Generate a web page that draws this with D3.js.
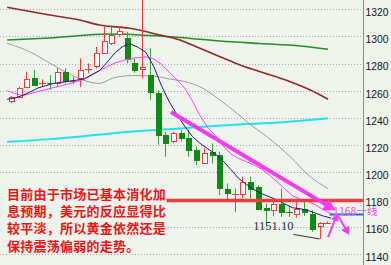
<!DOCTYPE html>
<html>
<head>
<meta charset="utf-8">
<script src="https://cdn.jsdelivr.net/npm/d3@7/dist/d3.min.js"></script>
<style>
  body { margin: 0; background: #ffffff; }
  svg { display: block; }
</style>
</head>
<body>
<div id="chart"></div>
<script>
const width = 391;
const height = 265;
const axis_x = 363;

// candles, one per bar (index 0..41)
const opens  = [1252.5, 1255.7, 1263.0, 1269.2, 1265.9, 1266.0, 1265.5, 1273.6, 1267.0, 1269.2,
                1276.0, 1278.3, 1288.3, 1295.4, 1301.8, 1298.7, 1280.7, 1275.8, 1271.6, 1258.6,
                1227.5, 1222.5, 1228.7, 1225.0, 1216.4, 1207.4, 1215.2, 1212.7, 1187.5, 1183.8,
                1184.6, 1193.1, 1189.0, 1174.0, 1172.3, 1176.7, 1171.2, 1169.4, 1173.1, 1169.4,
                1160.0, 1163.0];
const highs  = [1256.2, 1263.0, 1274.1, 1275.3, 1268.5, 1271.6, 1276.6, 1276.6, 1270.4, 1283.9,
                1280.2, 1292.5, 1308.4, 1308.4, 1307.7, 1303.5, 1283.9, 1330.0, 1291.3, 1260.6,
                1229.9, 1229.9, 1231.2, 1231.2, 1218.9, 1217.7, 1221.4, 1215.2, 1191.9, 1188.2,
                1196.8, 1196.8, 1190.7, 1177.2, 1179.6, 1188.2, 1175.2, 1178.2, 1178.2, 1172.3,
                1163.3, 1164.0];
const lows   = [1250.8, 1254.5, 1262.5, 1263.8, 1263.5, 1260.6, 1263.0, 1265.5, 1265.0, 1263.0,
                1272.9, 1276.6, 1287.6, 1293.7, 1299.8, 1280.2, 1273.3, 1269.2, 1253.2, 1220.3,
                1211.5, 1221.4, 1222.5, 1211.5, 1205.4, 1206.6, 1206.6, 1183.3, 1180.1, 1171.0,
                1180.9, 1180.9, 1172.3, 1160.0, 1167.8, 1167.3, 1167.3, 1166.7, 1168.0, 1156.3,
                1151.1, 1162.0];
const closes = [1255.2, 1262.3, 1268.7, 1264.3, 1266.0, 1265.0, 1273.6, 1266.7, 1267.2, 1275.3,
                1276.1, 1288.1, 1296.9, 1301.1, 1304.0, 1283.2, 1275.8, 1277.3, 1259.3, 1227.5,
                1221.4, 1228.7, 1225.0, 1216.4, 1209.1, 1214.4, 1213.3, 1188.2, 1184.6, 1184.0,
                1193.1, 1188.2, 1172.8, 1172.8, 1176.7, 1171.0, 1171.0, 1173.1, 1171.1, 1158.4,
                1162.5, 1163.0];

// fast averages, first value sits half a bar left of bar 0
const ma_start = -0.5;
const ma_navy = [1253.8, 1254.7, 1256.6, 1259.3, 1262.1, 1263.8, 1265.5, 1266.3, 1267.1, 1267.9,
                 1268.8, 1272.0, 1275.0, 1281.3, 1288.1, 1292.7, 1294.5, 1292.0, 1288.2, 1278.0,
                 1263.9, 1252.1, 1242.6, 1234.1, 1226.5, 1221.4, 1217.4, 1213.6, 1208.4, 1202.1,
                 1195.6, 1191.3, 1187.3, 1184.4, 1182.1, 1179.8, 1176.8, 1174.0, 1173.3, 1172.0,
                 1170.0, 1167.9, 1166.4];
const ma_pink = [1260.2, 1258.0, 1256.5, 1258.0, 1259.5, 1260.9, 1262.4, 1263.7, 1265.2, 1266.9,
                 1268.6, 1271.7, 1275.0, 1277.9, 1280.5, 1282.2, 1283.9, 1284.5, 1285.0, 1283.5,
                 1279.5, 1273.9, 1268.2, 1262.1, 1252.8, 1241.7, 1233.2, 1227.2, 1219.5, 1213.7,
                 1210.2, 1207.9, 1205.4, 1202.4, 1198.0, 1193.0, 1187.9, 1182.9, 1180.4, 1178.6,
                 1176.1, 1172.5, 1169.7];

// slow averages as [bar index, price] knots
const ma_gray = [[-0.5, 1295.0], [2.5, 1288.6], [5, 1280.5], [7.3, 1273.1], [9.3, 1268.0],
                 [11.5, 1265.5], [13.2, 1269.4], [15.8, 1271.3], [18.4, 1270.9], [20.6, 1268.7],
                 [22.5, 1266.9], [24.5, 1263.0], [27.1, 1253.2], [29.3, 1243.4], [31.4, 1233.6],
                 [33.2, 1226.2], [36.2, 1211.5], [38.8, 1196.8], [41.1, 1188.2]];
const ma_maroon = [[-0.5, 1321.5], [5, 1315.8], [8.9, 1312.1], [11.5, 1308.4], [15.4, 1306.0],
                   [19.3, 1301.1], [21.9, 1297.4], [24.5, 1291.3], [27.1, 1285.1], [29.7, 1279.0],
                   [32.3, 1274.1], [36.2, 1266.7], [38.8, 1260.6], [41.1, 1253.8]];
const ma_green = [[-0.5, 1297.4], [5, 1298.9], [12.8, 1301.8], [18, 1300.7], [21.9, 1299.2],
                  [27.1, 1296.7], [32.3, 1294.8], [37.5, 1293.0], [41.1, 1290.6]];
const ma_cyan = [[-0.5, 1222.5], [5, 1224.5], [10.9, 1227.5], [15.4, 1229.9], [21.9, 1232.4],
                 [26.2, 1234.1], [30.6, 1235.6], [34.2, 1236.5], [37.5, 1238.0], [41.1, 1239.8]];

const price_ticks = [1140, 1160, 1180, 1200, 1220, 1240, 1260, 1280, 1300, 1320];

const note_lines = ["目前由于市场已基本消化加", "息预期，美元的反应显得比",
                    "较平淡，所以黄金依然还是", "保持震荡偏弱的走势。"];
const level_red = 1180;
const level_blue = 1169;
const level_text = "1168一线";
const low_text = "1151.10";

const bg = "#eef4ec";

const svg = d3.select("#chart").append("svg")
    .attr("width", width)
    .attr("height", height);

const x = d3.scaleLinear().domain([0, 41]).range([11, 327.3]);
const y = d3.scaleLinear().domain([1140, 1320]).range([254, 9.3]);

svg.append("rect")
    .attr("width", width).attr("height", height)
    .attr("fill", bg);

svg.append("clipPath").attr("id", "plot-clip")
  .append("rect")
    .attr("x", 0).attr("y", 0)
    .attr("width", axis_x).attr("height", height);

const plot = svg.append("g").attr("clip-path", "url(#plot-clip)");

// dotted grid
plot.selectAll(".grid")
    .data(price_ticks)
  .enter().append("line")
    .attr("class", "grid")
    .attr("x1", 0).attr("x2", axis_x)
    .attr("y1", d => Math.round(y(d)) + 0.5)
    .attr("y2", d => Math.round(y(d)) + 0.5)
    .attr("stroke", "#a9aca9")
    .attr("stroke-dasharray", "1,2");

// slow averages
const knot_line = d3.line()
    .x(d => x(d[0]))
    .y(d => y(d[1]))
    .curve(d3.curveMonotoneX);

const slow = [
  { data: ma_cyan, stroke: "#22e2ee", w: 2 },
  { data: ma_green, stroke: "#2b8a2b", w: 1.6 },
  { data: ma_maroon, stroke: "#8e2b2b", w: 1.6 },
  { data: ma_gray, stroke: "#9c9c9c", w: 1 }
];
plot.selectAll(".ma-slow")
    .data(slow)
  .enter().append("path")
    .attr("class", "ma-slow")
    .attr("d", d => knot_line(d.data))
    .attr("fill", "none")
    .attr("stroke", d => d.stroke)
    .attr("stroke-width", d => d.w);

// candles
const bars = d3.range(opens.length).map(i => ({
  i: i, o: opens[i], h: highs[i], l: lows[i], c: closes[i], up: closes[i] >= opens[i]
}));
const red = "#f2383a";
const green = "#0f8a12";

const candle = plot.selectAll(".candle")
    .data(bars)
  .enter().append("g")
    .attr("class", "candle");

candle.append("line")
    .attr("x1", d => Math.round(x(d.i)) + 0.5)
    .attr("x2", d => Math.round(x(d.i)) + 0.5)
    .attr("y1", d => y(d.h))
    .attr("y2", d => y(d.l))
    .attr("stroke", d => d.up ? red : "#3c9e3c");

candle.filter(d => Math.abs(y(d.o) - y(d.c)) >= 1.5)
  .append("rect")
    .attr("x", d => Math.round(x(d.i)) - 2 + 0.5)
    .attr("width", 5)
    .attr("y", d => Math.round(y(Math.max(d.o, d.c))) + 0.5)
    .attr("height", d => Math.round(Math.abs(y(d.o) - y(d.c))))
    .attr("fill", d => d.up ? "#ffffff" : green)
    .attr("stroke", d => d.up ? red : green);

candle.filter(d => Math.abs(y(d.o) - y(d.c)) < 1.5)
  .append("line")
    .attr("x1", d => Math.round(x(d.i)) - 3)
    .attr("x2", d => Math.round(x(d.i)) + 4)
    .attr("y1", d => Math.round(y(d.o)) + 0.5)
    .attr("y2", d => Math.round(y(d.o)) + 0.5)
    .attr("stroke", d => d.up ? red : green);

// fast averages
const fast_line = d3.line()
    .x((d, k) => x(ma_start + k))
    .y(d => y(d));

plot.append("path")
    .attr("d", fast_line(ma_pink))
    .attr("fill", "none")
    .attr("stroke", "#ff3cff")
    .attr("stroke-width", 1);

plot.append("path")
    .attr("d", fast_line(ma_navy))
    .attr("fill", "none")
    .attr("stroke", "#1b1b78")
    .attr("stroke-width", 1);

// note box hides grid and the red level under it
plot.append("rect")
    .attr("x", 0).attr("y", 179)
    .attr("width", 166.5).attr("height", 72)
    .attr("fill", bg);

// levels
plot.append("line")
    .attr("x1", 166.5).attr("x2", axis_x)
    .attr("y1", y(level_red) + 1).attr("y2", y(level_red) + 1)
    .attr("stroke", "#f43a3a")
    .attr("stroke-width", 3.5);

plot.append("line")
    .attr("x1", x(41.3)).attr("x2", axis_x)
    .attr("y1", y(level_blue)).attr("y2", y(level_blue))
    .attr("stroke", "#2f5fdc")
    .attr("stroke-width", 2);

// arrows
function arrow(g, a, b, w, len, half, color) {
  const x0 = x(a[0]), y0 = y(a[1]), x1 = x(b[0]), y1 = y(b[1]);
  const dx = x1 - x0, dy = y1 - y0, n = Math.hypot(dx, dy);
  const ux = dx / n, uy = dy / n;
  const bx = x1 - ux * len, by = y1 - uy * len;
  g.append("line")
      .attr("x1", x0).attr("y1", y0)
      .attr("x2", bx + ux * 1).attr("y2", by + uy * 1)
      .attr("stroke", color)
      .attr("stroke-width", w);
  g.append("path")
      .attr("d", "M" + x1 + "," + y1 +
                 "L" + (bx - uy * half) + "," + (by + ux * half) +
                 "L" + (bx + uy * half) + "," + (by - ux * half) + "Z")
      .attr("fill", color);
}

const notes = svg.append("g");
arrow(notes, [20.74, 1244.4], [42.1, 1172.0], 4, 12, 6.5, "#f23cf2");
arrow(notes, [41.1, 1152.4], [42.3, 1169.5], 2, 7, 4, "#f23cf2");
arrow(notes, [42.42, 1167.8], [43.85, 1154.0], 2, 8, 4.5, "#f23cf2");

// pointer to the low
notes.append("line")
    .attr("x1", x(36.6)).attr("y1", y(1154.4))
    .attr("x2", x(40)).attr("y2", y(1151.1))
    .attr("stroke", "#333333")
    .attr("stroke-width", 1);

notes.append("text")
    .attr("x", x(31.4))
    .attr("y", y(1157.5))
    .attr("font-family", "Liberation Serif")
    .attr("font-size", 12.5)
    .attr("fill", "#2c2f3e")
    .text(low_text);

notes.append("text")
    .attr("x", x(41.75))
    .attr("y", y(1168) - 0.5)
    .attr("font-family", "Noto Sans CJK SC")
    .attr("font-size", 10.5)
    .attr("fill", "#e652e6")
    .text(level_text);

// note text
notes.selectAll(".note")
    .data(note_lines)
  .enter().append("text")
    .attr("class", "note")
    .attr("x", 7)
    .attr("y", (d, k) => 199 + k * 17.2)
    .attr("font-family", "Noto Sans CJK SC")
    .attr("font-weight", "bold")
    .attr("font-size", 13)
    .attr("letter-spacing", 0.25)
    .attr("fill", "#ee1515")
    .text(d => d);

// right price axis
svg.append("line")
    .attr("x1", axis_x + 0.5).attr("x2", axis_x + 0.5)
    .attr("y1", 0).attr("y2", height)
    .attr("stroke", "#8a8a8a");

const axis = svg.append("g")
    .attr("transform", "translate(" + axis_x + ",0)")
    .call(d3.axisRight(y).tickValues(price_ticks).tickSize(0).tickPadding(2.5).tickFormat(d3.format("d")));
axis.select(".domain").remove();
axis.selectAll("text")
    .attr("y", 2.5)
    .attr("font-family", "Liberation Sans")
    .attr("font-size", 11.5)
    .attr("fill", "#151515")
    .attr("textLength", 23)
    .attr("lengthAdjust", "spacingAndGlyphs");
</script>
</body>
</html>
